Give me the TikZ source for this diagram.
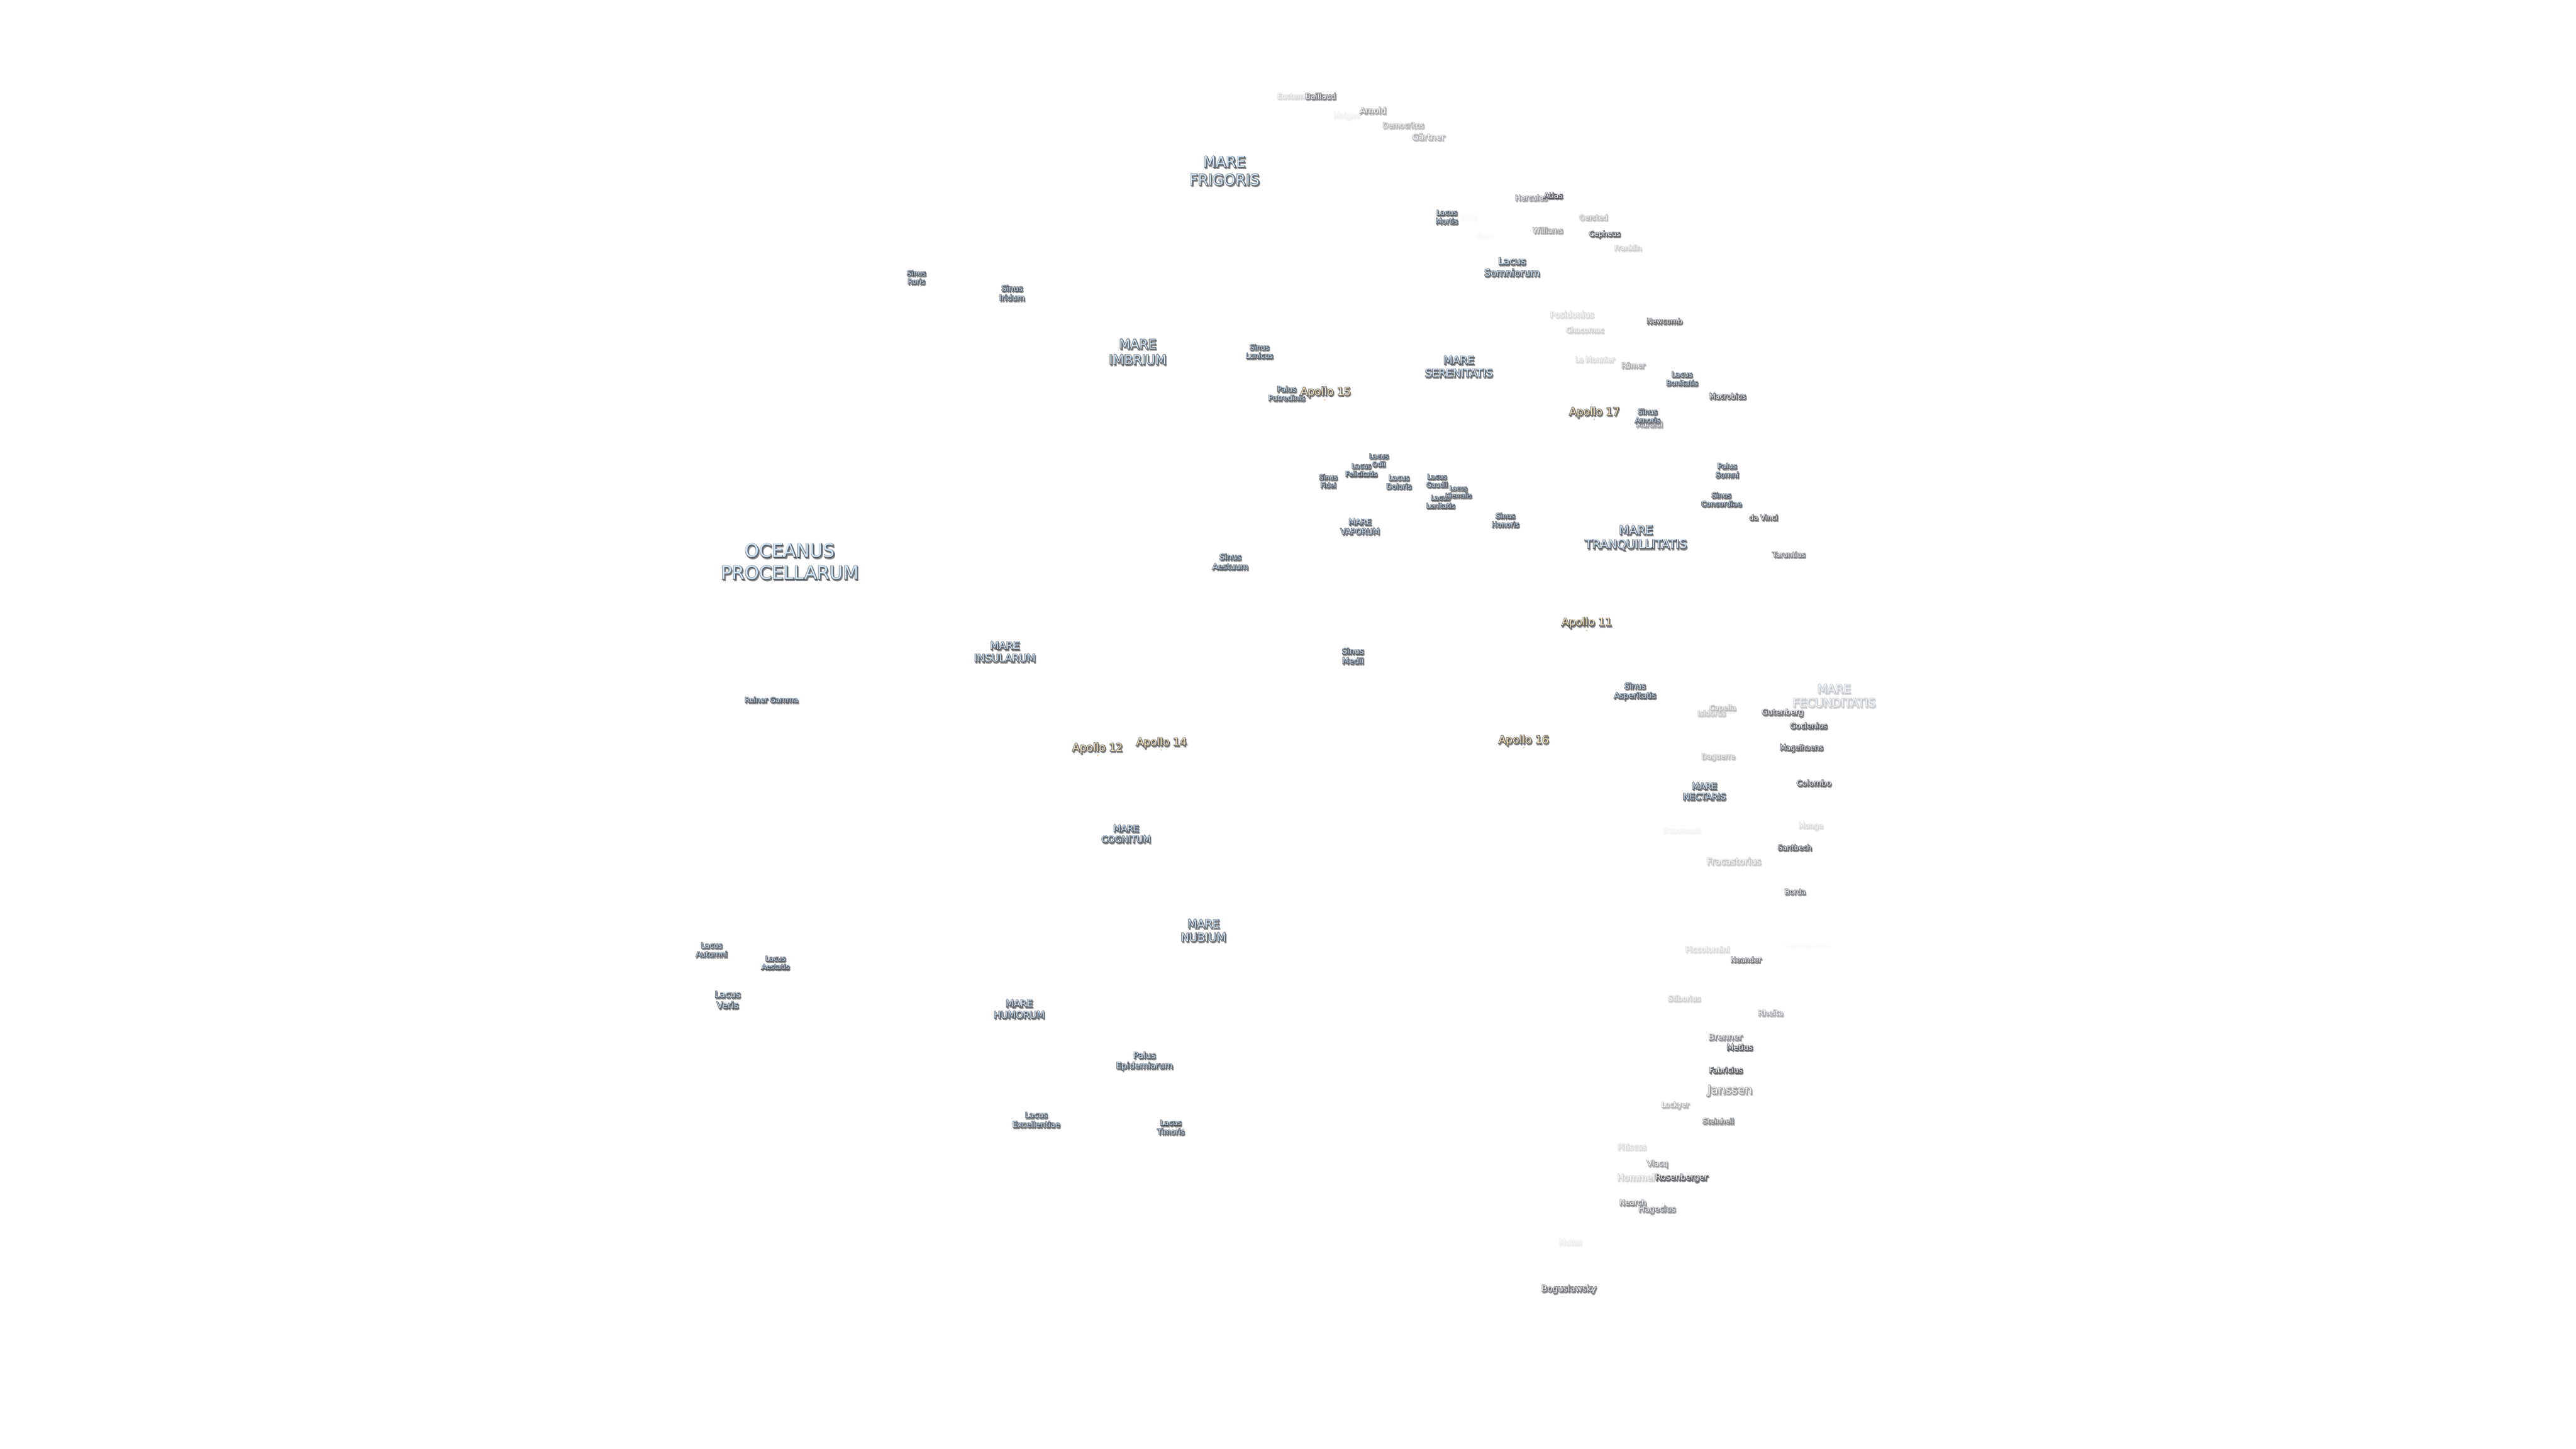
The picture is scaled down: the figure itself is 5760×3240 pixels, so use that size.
\documentclass[tikz,border=0pt]{standalone}
\usepackage{fontspec}
\setmainfont{DejaVu Sans}
\definecolor{seafill}{HTML}{CFE6FB}
\definecolor{cratfill}{HTML}{FFFFFF}
\definecolor{apofill}{HTML}{FBE3B5}
\definecolor{lblstroke}{HTML}{565B63}
\definecolor{lblshadow}{HTML}{858585}
\tikzset{
  lblbase/.style={inner sep=0pt,outer sep=0pt,align=center,anchor=center},
  lunardot/.style={circle,fill=apofill!70!brown,inner sep=0pt,minimum size=1pt}
}
% id, x, y, font size (px), strength (%), fill colour, text
\newcommand{\lbl}[7]{%
  \pgfmathsetmacro{\lblpt}{#4*0.25}%
  \pgfmathsetmacro{\lblfb}{230/#4}%
  \pgfmathsetmacro{\lblls}{#4*0.3}%
  \pgfmathsetmacro{\lblst}{min(100,#5*1.2)}%
  \font\lblo="DejaVu Sans:embolden=\lblfb" at \lblpt pt
  \font\lblf="DejaVu Sans" at \lblpt pt
  \node[lblbase,text=lblshadow!\lblst!white,font={\fontsize{\lblpt}{\lblls}\selectfont\lblo}] (#1-s) at ({#2+2},{#3+3}) {#7};
  \node[lblbase,text=lblstroke!\lblst!white,font={\fontsize{\lblpt}{\lblls}\selectfont\lblo}] (#1-o) at (#2,#3) {#7};
  \node[lblbase,text=#6!#5!white,font={\fontsize{\lblpt}{\lblls}\selectfont\lblf}] (#1) at (#2,#3) {#7};
}
\begin{document}
\begin{tikzpicture}[x=0.25pt,y=-0.25pt]
\path[use as bounding box,fill=white] (0,0) rectangle (5760,3240);
% maria and other named regions
\lbl{oceanus}{1766}{1256}{41}{100}{seafill}{OCEANUS\\PROCELLARUM}
\lbl{frigoris}{2738}{382}{33}{100}{seafill}{MARE\\FRIGORIS}
\lbl{imbrium}{2544}{787}{29}{100}{seafill}{MARE\\IMBRIUM}
\lbl{serenitatis}{3262}{820}{24}{100}{seafill}{MARE\\SERENITATIS}
\lbl{vaporum}{3041}{1178}{17.5}{100}{seafill}{MARE\\VAPORUM}
\lbl{tranq}{3658}{1203}{26.5}{100}{seafill}{MARE\\TRANQUILLITATIS}
\lbl{insularum}{2247}{1458}{23}{100}{seafill}{MARE\\INSULARUM}
\lbl{cognitum}{2518}{1865}{20}{100}{seafill}{MARE\\COGNITUM}
\lbl{nubium}{2691}{2081}{25}{100}{seafill}{MARE\\NUBIUM}
\lbl{humorum}{2279}{2257}{21}{100}{seafill}{MARE\\HUMORUM}
\lbl{nectaris}{3811}{1770}{19.5}{100}{seafill}{MARE\\NECTARIS}
\lbl{fecund}{4101}{1556}{26}{30}{seafill}{MARE\\FECUNDITATIS}
\lbl{mortis}{3235}{485}{16}{100}{seafill}{Lacus\\Mortis}
\lbl{somniorum}{3381}{597}{21.5}{100}{seafill}{Lacus\\Somniorum}
\lbl{bonitatis}{3761}{847}{16}{100}{seafill}{Lacus\\Bonitatis}
\lbl{putredinis}{2877}{880}{16.5}{100}{seafill}{Palus\\Putredinis}
\lbl{odii}{3083}{1029}{15}{100}{seafill}{Lacus\\Odii}
\lbl{felicitatis}{3044}{1051}{15}{100}{seafill}{Lacus\\Felicitatis}
\lbl{fidei}{2970}{1076}{15}{100}{seafill}{Sinus\\Fidei}
\lbl{doloris}{3128}{1078}{16}{100}{seafill}{Lacus\\Doloris}
\lbl{gaudii}{3213}{1075}{15}{100}{seafill}{Lacus\\Gaudii}
\lbl{lenitatis}{3221}{1122}{15}{100}{seafill}{Lacus\\Lenitatis}
\lbl{hiemalis}{3261}{1100}{13.5}{100}{seafill}{Lacus\\Hiemalis}
\lbl{honoris}{3366}{1163}{16}{100}{seafill}{Sinus\\Honoris}
\lbl{aestuum}{2751}{1256}{18}{100}{seafill}{Sinus\\Aestuum}
\lbl{somni}{3862}{1052}{16.5}{100}{seafill}{Palus\\Somni}
\lbl{concordiae}{3849}{1117}{16}{100}{seafill}{Sinus\\Concordiae}
\lbl{asperitatis}{3656}{1546}{17.5}{100}{seafill}{Sinus\\Asperitatis}
\lbl{roris}{2049}{620}{15.5}{100}{seafill}{Sinus\\Roris}
\lbl{iridum}{2263}{655}{17.5}{100}{seafill}{Sinus\\Iridum}
\lbl{lunicus}{2816}{786}{16}{100}{seafill}{Sinus\\Lunicus}
\lbl{medii}{3025}{1467}{18}{100}{seafill}{Sinus\\Medii}
\lbl{reiner}{1725}{1565}{16}{100}{seafill}{Reiner Gamma}
\lbl{autumni}{1591}{2124}{16.5}{100}{seafill}{Lacus\\Autumni}
\lbl{aestatis}{1734}{2153}{15.5}{100}{seafill}{Lacus\\Aestatis}
\lbl{veris}{1627}{2236}{20}{100}{seafill}{Lacus\\Veris}
\lbl{epidemiarum}{2559}{2373}{19}{100}{seafill}{Palus\\Epidemiarum}
\lbl{excellentiae}{2317}{2504}{17.5}{100}{seafill}{Lacus\\Excellentiae}
\lbl{timoris}{2618}{2521}{16.5}{100}{seafill}{Lacus\\Timoris}
% craters
\lbl{euctemon}{2896}{215}{16}{20}{cratfill}{Euctemon}
\lbl{baillaud}{2953}{215}{17}{70}{cratfill}{Baillaud}
\lbl{moigno}{3011}{259}{16}{8}{cratfill}{Moigno}
\lbl{arnold}{3070}{247}{18}{50}{cratfill}{Arnold}
\lbl{democritus}{3138}{280}{16}{40}{cratfill}{Democritus}
\lbl{gaertner}{3194}{306}{19}{40}{cratfill}{Gärtner}
\lbl{buerg}{3284}{486}{16}{3}{cratfill}{Bürg}
\lbl{plana}{3319}{527}{14}{3}{cratfill}{Plana}
\lbl{hercules}{3424}{442}{16.5}{55}{cratfill}{Hercules}
\lbl{atlas}{3473}{437}{17}{85}{cratfill}{Atlas}
\lbl{oersted}{3563}{486}{16}{35}{cratfill}{Oersted}
\lbl{williams}{3461}{515}{16}{50}{cratfill}{Williams}
\lbl{cepheus}{3588}{524}{16}{100}{cratfill}{Cepheus}
\lbl{franklin}{3640}{554}{15.5}{25}{cratfill}{Franklin}
\lbl{posidonius}{3515}{703}{18.5}{20}{cratfill}{Posidonius}
\lbl{chacornac}{3544}{738}{16}{25}{cratfill}{Chacornac}
\lbl{newcomb}{3722}{718}{16}{80}{cratfill}{Newcomb}
\lbl{lemonnier}{3566}{804}{16}{20}{cratfill}{Le Monnier}
\lbl{roemer}{3652}{817}{16}{45}{cratfill}{Römer}
\lbl{macrobius}{3863}{886}{16}{90}{cratfill}{Macrobius}
\lbl{maraldi}{3688}{949}{16}{50}{cratfill}{Maraldi}
\lbl{amoris}{3684}{930}{16}{100}{seafill}{Sinus\\Amoris}
\lbl{davinci}{3943}{1157}{16}{80}{cratfill}{da Vinci}
\lbl{taruntius}{4000}{1240}{16}{65}{cratfill}{Taruntius}
\lbl{isidorus}{3827}{1595}{16}{30}{cratfill}{Isidorus}
\lbl{capella}{3852}{1584}{16}{35}{cratfill}{Capella}
\lbl{gutenberg}{3986}{1594}{17.5}{75}{cratfill}{Gutenberg}
\lbl{goclenius}{4044}{1623}{17}{95}{cratfill}{Goclenius}
\lbl{magelhaens}{4028}{1673}{16}{90}{cratfill}{Magelhaens}
\lbl{daguerre}{3842}{1693}{16}{35}{cratfill}{Daguerre}
\lbl{colombo}{4056}{1751}{17.5}{100}{cratfill}{Colombo}
\lbl{beaumont}{3760}{1857}{16}{6}{cratfill}{Beaumont}
\lbl{monge}{4049}{1848}{16}{20}{cratfill}{Monge}
\lbl{santbech}{4013}{1895}{16}{85}{cratfill}{Santbech}
\lbl{fracastorius}{3877}{1926}{20}{30}{cratfill}{Fracastorius}
\lbl{borda}{4014}{1994}{16}{70}{cratfill}{Borda}
\lbl{piccolomini}{3818}{2123}{17.5}{20}{cratfill}{Piccolomini}
\lbl{reichenbach}{4042}{2113}{15.5}{2}{cratfill}{Reichenbach}
\lbl{neander}{3904}{2146}{16}{70}{cratfill}{Neander}
\lbl{stiborius}{3766}{2233}{16.5}{25}{cratfill}{Stiborius}
\lbl{rheita}{3959}{2265}{17.5}{45}{cratfill}{Rheita}
\lbl{brenner}{3858}{2319}{19}{60}{cratfill}{Brenner}
\lbl{metius}{3890}{2342}{17.5}{100}{cratfill}{Metius}
\lbl{fabricius}{3859}{2393}{17}{85}{cratfill}{Fabricius}
\lbl{janssen}{3868}{2439}{26}{55}{cratfill}{Janssen}
\lbl{lockyer}{3746}{2472}{16}{40}{cratfill}{Lockyer}
\lbl{steinheil}{3842}{2507}{16}{65}{cratfill}{Steinheil}
\lbl{pitiscus}{3649}{2565}{17}{20}{cratfill}{Pitiscus}
\lbl{vlacq}{3706}{2603}{17}{50}{cratfill}{Vlacq}
\lbl{hommel}{3658}{2633}{20}{25}{cratfill}{Hommel}
\lbl{rosenberger}{3760}{2634}{18.5}{90}{cratfill}{Rosenberger}
\lbl{nearch}{3651}{2689}{17}{60}{cratfill}{Nearch}
\lbl{hagecius}{3705}{2705}{18}{60}{cratfill}{Hagecius}
\lbl{mutus}{3511}{2778}{17}{10}{cratfill}{Mutus}
\lbl{boguslawsky}{3508}{2883}{19}{75}{cratfill}{Boguslawsky}
% landing sites
\lbl{apxv}{2964}{877}{24}{100}{apofill}{Apollo 15}
\lbl{apxvii}{3565}{922}{24}{100}{apofill}{Apollo 17}
\lbl{apxi}{3548}{1393}{24}{100}{apofill}{Apollo 11}
\lbl{apxii}{2454}{1673}{24}{100}{apofill}{Apollo 12}
\lbl{apxiv}{2597}{1661}{24}{100}{apofill}{Apollo 14}
\lbl{apxvi}{3407}{1656}{24}{100}{apofill}{Apollo 16}
\node[lunardot] (dotxv) at (2962,894) {};
\node[lunardot] (dotxvii) at (3565,938) {};
\node[lunardot] (dotxi) at (3548,1410) {};
\node[lunardot] (dotxii) at (2454,1689) {};
\node[lunardot] (dotxiv) at (2597,1677) {};
\node[lunardot] (dotxvi) at (3407,1672) {};
\end{tikzpicture}
\end{document}
